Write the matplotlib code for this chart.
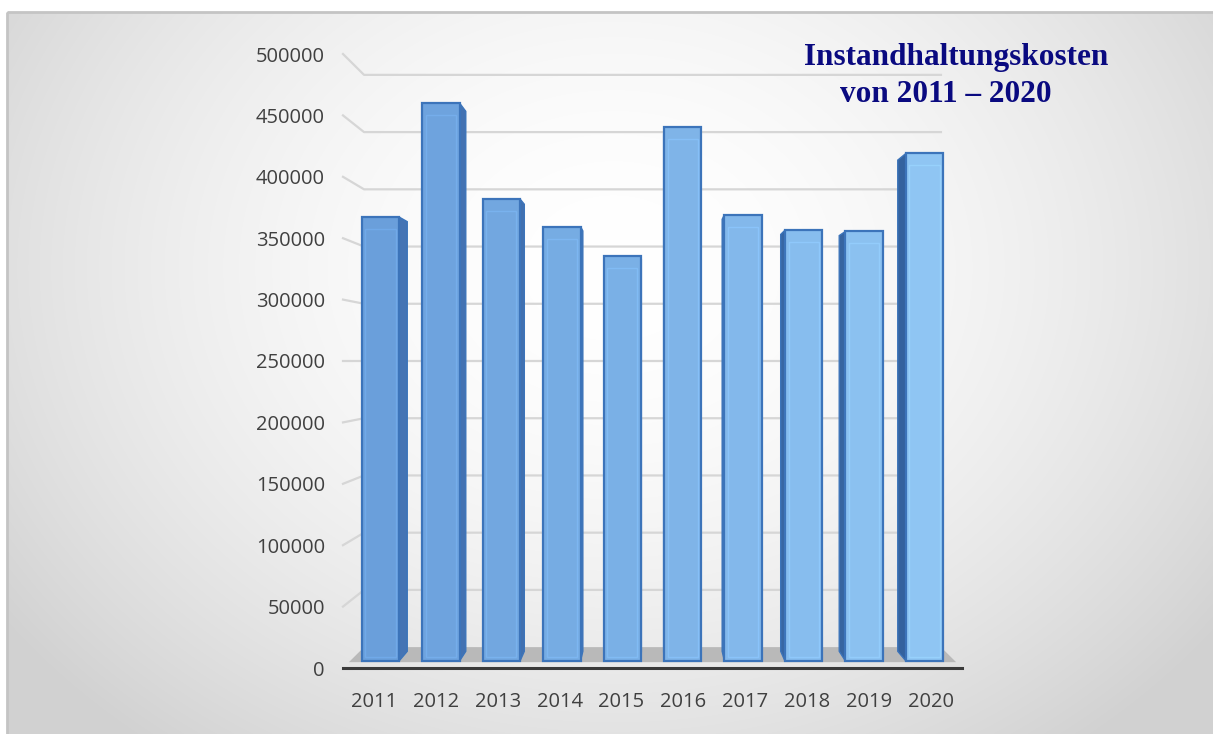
import numpy as np
import matplotlib
matplotlib.use("Agg")
import matplotlib.pyplot as plt
from matplotlib.patches import Polygon, Rectangle
from matplotlib.colors import to_rgb

# data
years = ['2011', '2012', '2013', '2014', '2015', '2016', '2017', '2018', '2019', '2020']
costs = [370000, 465000, 385000, 362000, 337500, 445000, 372000, 359000, 358000, 423000]
yticks = [0, 50000, 100000, 150000, 200000, 250000, 300000, 350000, 400000, 450000, 500000]
title_1 = "Instandhaltungskosten"
title_2 = "von 2011 \u2013 2020"

W, H = 1213, 734
fig = plt.figure(figsize=(W / 100, H / 100), dpi=100)
fig.patch.set_facecolor('white')

# background: radial grey gradient inside a thin frame
bg = fig.add_axes([0, 0, 1, 1], zorder=0)
bg.set_xlim(0, W)
bg.set_ylim(H, 0)
bg.axis('off')
xx, yy = np.meshgrid(np.arange(W), np.arange(H))
r = np.sqrt(((xx - 610) / 760.0) ** 2 + ((yy - 260) / 620.0) ** 2)
shade = 1.0 - 0.18 * np.clip(r, 0, 1) ** 1.8
img = np.dstack([shade, shade, shade])
bg.imshow(img, extent=[7, W, H, 12], aspect='auto', interpolation='bilinear')
bg.add_patch(Rectangle((7, 12), W + 10, H + 10, fill=False, edgecolor='#c4c4c4', lw=2))

# chart axes: front plane of the 3D box
ax = fig.add_axes([343 / W, 66 / H, 619 / W, 614 / H], zorder=1)
ax.set_xlim(-0.5, 9.5)
ax.set_ylim(0, 500000)
ax.patch.set_visible(False)
for s in ax.spines.values():
    s.set_visible(False)
ax.tick_params(length=0, colors='#404040', labelsize=14.5)
ax.set_yticks(yticks)
ax.set_yticklabels([str(v) for v in yticks], family='Open Sans')
ax.set_xticks(range(len(years)))
ax.set_xticklabels(years, family='Open Sans')
ax.tick_params(axis='y', pad=13)
ax.tick_params(axis='x', pad=17)

# simple perspective toward a vanishing point, depth 0 = front, 1 = back wall
VX, VY = 4.5, 250000
SHRINK = 0.068


def proj(x, y, d):
    f = 1 - SHRINK * d
    return VX + (x - VX) * f, VY + (y - VY) * f


# gridlines on back wall and left side wall
for v in yticks[1:]:
    p0 = proj(-0.5, v, 0)
    p1 = proj(-0.5, v, 1)
    p2 = proj(9.5, v, 1)
    ax.plot([p0[0], p1[0], p2[0]], [p0[1], p1[1], p2[1]], color='#d6d6d6', lw=1.6,
            zorder=1, clip_on=False)

# floor
floor = [proj(-0.5, 0, 0.28), proj(9.5, 0, 0.28), proj(9.5, 0, 1.0), proj(-0.5, 0, 1.0)]
ax.add_patch(Polygon(floor, closed=True, facecolor='#b9b9b9', edgecolor='none',
                     zorder=2, clip_on=False))
ax.plot([-0.5, 9.5], [0, 0], color='#3a3a3a', lw=2.2, zorder=2, clip_on=False)

# bars
hw = 0.31
df, db = 0.34, 0.80
c_left = np.array(to_rgb('#6a9fdb'))
c_right = np.array(to_rgb('#8fc5f3'))
s_left = np.array(to_rgb('#4574b4'))
s_right = np.array(to_rgb('#34629e'))
edge = '#3c74ba'
n = len(costs)
for i, v in enumerate(costs):
    t = i / (n - 1)
    face = c_left * (1 - t) + c_right * t
    side = s_left * (1 - t) + s_right * t
    xl, xr = i - hw, i + hw
    if xr < VX:
        sf = [proj(xr, 0, df), proj(xr, 0, db), proj(xr, v, db), proj(xr, v, df)]
        ax.add_patch(Polygon(sf, closed=True, facecolor=side, edgecolor=edge, lw=1,
                             zorder=3, clip_on=False))
    elif xl > VX:
        sf = [proj(xl, 0, df), proj(xl, 0, db), proj(xl, v, db), proj(xl, v, df)]
        ax.add_patch(Polygon(sf, closed=True, facecolor=side, edgecolor=edge, lw=1,
                             zorder=3, clip_on=False))
    ff = [proj(xl, 0, df), proj(xr, 0, df), proj(xr, v, df), proj(xl, v, df)]
    ax.add_patch(Polygon(ff, closed=True, facecolor=face, edgecolor=edge, lw=1.6,
                         zorder=4, clip_on=False))
    # inner bevel
    ins = 0.06
    fi = [proj(xl + ins, 3000, df), proj(xr - ins, 3000, df),
          proj(xr - ins, v - 10000, df), proj(xl + ins, v - 10000, df)]
    ax.add_patch(Polygon(fi, closed=True, facecolor='none',
                         edgecolor=np.clip(face * 1.08, 0, 1), lw=1.0, alpha=0.8,
                         zorder=5, clip_on=False))

# title
fig.text(956 / W, 1 - 58 / H, title_1, family='Liberation Serif', weight='bold',
         fontsize=22.5, color='#0a0a80', ha='center', va='center')
fig.text(946 / W, 1 - 94 / H, title_2, family='Liberation Serif', weight='bold',
         fontsize=22.5, color='#0a0a80', ha='center', va='center')

fig.savefig('out.png', dpi=100, facecolor=fig.get_facecolor())
